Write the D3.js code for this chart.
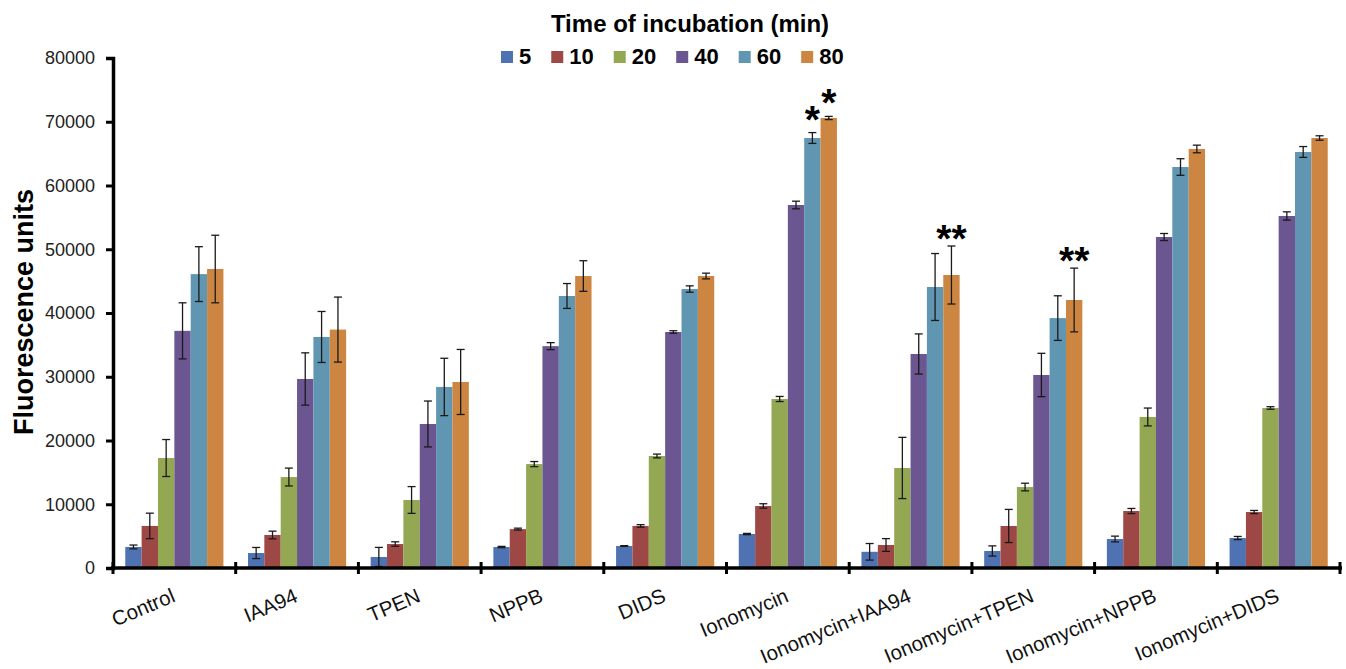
<!DOCTYPE html>
<html>
<head>
  <script src="https://cdnjs.cloudflare.com/ajax/libs/d3/7.8.5/d3.min.js"></script>
  <style>
    body { margin: 0; background: #fff; }
    text { font-family: "Liberation Sans", Arial, sans-serif; }
  </style>
</head>
<body>
  <div id="chart"></div>

  <script>
    const categories = ['Control', 'IAA94', 'TPEN', 'NPPB', 'DIDS', 'Ionomycin',
      'Ionomycin+IAA94', 'Ionomycin+TPEN', 'Ionomycin+NPPB', 'Ionomycin+DIDS'];
    const times = [5, 10, 20, 40, 60, 80];
    const colors = ['#4f73b2', '#9e4846', '#94a853', '#6c5692', '#6096b1', '#cd8641'];

    // mean fluorescence per time point, one value per category
    const t5 = [3300, 2350, 1730, 3290, 3450, 5330, 2540, 2670, 4550, 4700];
    const t10 = [6600, 5180, 3760, 6100, 6600, 9730, 3610, 6590, 8940, 8780];
    const t20 = [17250, 14270, 10670, 16300, 17570, 26510, 15690, 12700, 23690, 25100];
    const t40 = [37200, 29650, 22590, 34800, 37020, 56940, 33570, 30275, 51920, 55220];
    const t60 = [46100, 36240, 28400, 42670, 43760, 67450, 44080, 39200, 62900, 65260];
    const t80 = [46900, 37400, 29180, 45800, 45800, 70590, 45960, 42040, 65730, 67450];

    // error bar half-heights
    const e5 = [300, 870, 1500, 100, 60, 100, 1300, 800, 450, 250];
    const e10 = [2000, 600, 350, 150, 200, 350, 1000, 2600, 400, 250];
    const e20 = [2900, 1400, 2100, 400, 300, 400, 4800, 600, 1400, 200];
    const e40 = [4400, 4100, 3600, 550, 200, 600, 3150, 3400, 550, 650];
    const e60 = [4300, 4000, 4500, 1950, 500, 850, 5250, 3500, 1300, 850];
    const e80 = [5300, 5100, 5100, 2400, 450, 250, 4550, 5000, 600, 350];

    const yTicks = [0, 10000, 20000, 30000, 40000, 50000, 60000, 70000, 80000];

    const stars = [
      { cat: 'Ionomycin', time: 60, text: '*' },
      { cat: 'Ionomycin', time: 80, text: '*' },
      { cat: 'Ionomycin+IAA94', time: 80, text: '**' },
      { cat: 'Ionomycin+TPEN', time: 80, text: '**' }
    ];

    const means = [t5, t10, t20, t40, t60, t80];
    const errs = [e5, e10, e20, e40, e60, e80];

    const W = 1346;
    const H = 669;
    const mLeft = 113, mRight = 1340, mTop = 58, mBottom = 568;

    const svg = d3.select('#chart').append('svg')
      .attr('width', W)
      .attr('height', H);

    const x0 = d3.scaleBand().domain(categories).range([mLeft, mRight]).padding(0);
    const x1 = d3.scaleBand().domain(times).range([0, x0.bandwidth()])
      .paddingInner(0).paddingOuter(0.75);
    const y = d3.scaleLinear().domain([0, 80000]).range([mBottom, mTop]);
    const color = d3.scaleOrdinal().domain(times).range(colors);

    const rows = [];
    categories.forEach((c, ci) => {
      times.forEach((t, ti) => {
        rows.push({ cat: c, time: t, value: means[ti][ci], err: errs[ti][ci] });
      });
    });

    // bars
    svg.append('g').selectAll('rect')
      .data(rows)
      .join('rect')
      .attr('x', d => x0(d.cat) + x1(d.time))
      .attr('y', d => y(d.value))
      .attr('width', x1.bandwidth())
      .attr('height', d => y(0) - y(d.value))
      .attr('fill', d => color(d.time));

    // error bars
    const eb = svg.append('g')
      .attr('stroke', '#1a1a1a')
      .attr('stroke-width', 1.3)
      .selectAll('g')
      .data(rows)
      .join('g')
      .attr('transform', d => `translate(${x0(d.cat) + x1(d.time) + x1.bandwidth() / 2},0)`);
    eb.append('line')
      .attr('y1', d => y(d.value + d.err))
      .attr('y2', d => y(Math.max(0, d.value - d.err)));
    eb.append('line').attr('x1', -4).attr('x2', 4)
      .attr('y1', d => y(d.value + d.err)).attr('y2', d => y(d.value + d.err));
    eb.append('line').attr('x1', -4).attr('x2', 4)
      .attr('y1', d => y(Math.max(0, d.value - d.err))).attr('y2', d => y(Math.max(0, d.value - d.err)));

    // y axis
    const yAxis = svg.append('g')
      .attr('transform', `translate(${mLeft},0)`)
      .call(d3.axisLeft(y).tickValues(yTicks).tickFormat(d3.format('d')).tickSize(7).tickPadding(11));
    yAxis.select('.domain').attr('stroke', '#000').attr('stroke-width', 3.5);
    yAxis.selectAll('.tick line').attr('stroke', '#000').attr('stroke-width', 3);
    yAxis.selectAll('.tick text')
      .attr('font-size', 18)
      .attr('font-family', '"Liberation Sans", Arial, sans-serif')
      .attr('fill', '#222');

    // x axis
    const xAxis = svg.append('g')
      .attr('transform', `translate(0,${mBottom})`);
    xAxis.append('line')
      .attr('x1', mLeft - 2).attr('x2', mRight + 2)
      .attr('stroke', '#000').attr('stroke-width', 3.5);
    const bounds = categories.map(c => x0(c)).concat([x0(categories[categories.length - 1]) + x0.bandwidth()]);
    xAxis.selectAll('line.tk')
      .data(bounds)
      .join('line')
      .attr('class', 'tk')
      .attr('x1', d => d).attr('x2', d => d)
      .attr('y1', -6).attr('y2', 6)
      .attr('stroke', '#000').attr('stroke-width', 3);
    xAxis.selectAll('text')
      .data(categories)
      .join('text')
      .attr('transform', d => `translate(${x0(d) + x0.bandwidth() / 2 + 2},33) rotate(-23)`)
      .attr('text-anchor', 'end')
      .attr('font-size', 20.5)
      .attr('fill', '#111')
      .text(d => d);

    // y title
    svg.append('text')
      .attr('transform', 'translate(33,312) rotate(-90)')
      .attr('text-anchor', 'middle')
      .attr('font-size', 27)
      .attr('font-weight', 'bold')
      .attr('fill', '#000')
      .text('Fluorescence units');

    // legend
    svg.append('text')
      .attr('x', 690).attr('y', 32)
      .attr('text-anchor', 'middle')
      .attr('font-size', 24)
      .attr('font-weight', 'bold')
      .text('Time of incubation (min)');

    let lx = 501;
    times.forEach(t => {
      svg.append('rect')
        .attr('x', lx).attr('y', 51)
        .attr('width', 12).attr('height', 12)
        .attr('fill', color(t));
      const tx = svg.append('text')
        .attr('x', lx + 18).attr('y', 64)
        .attr('font-size', 22)
        .attr('font-weight', 'bold')
        .text(t);
      lx += 18 + tx.node().getComputedTextLength() + 20;
    });

    // significance marks
    svg.append('g').selectAll('text')
      .data(stars)
      .join('text')
      .attr('x', d => x0(d.cat) + x1(d.time) + x1.bandwidth() / 2)
      .attr('y', d => {
        const ci = categories.indexOf(d.cat), ti = times.indexOf(d.time);
        const lift = d.text.length === 1 ? 22 : 16;
        return y(means[ti][ci] + errs[ti][ci]) - lift + 22;
      })
      .attr('text-anchor', 'middle')
      .attr('font-size', 39)
      .attr('font-weight', 'bold')
      .text(d => d.text);
  </script>
</body>
</html>
